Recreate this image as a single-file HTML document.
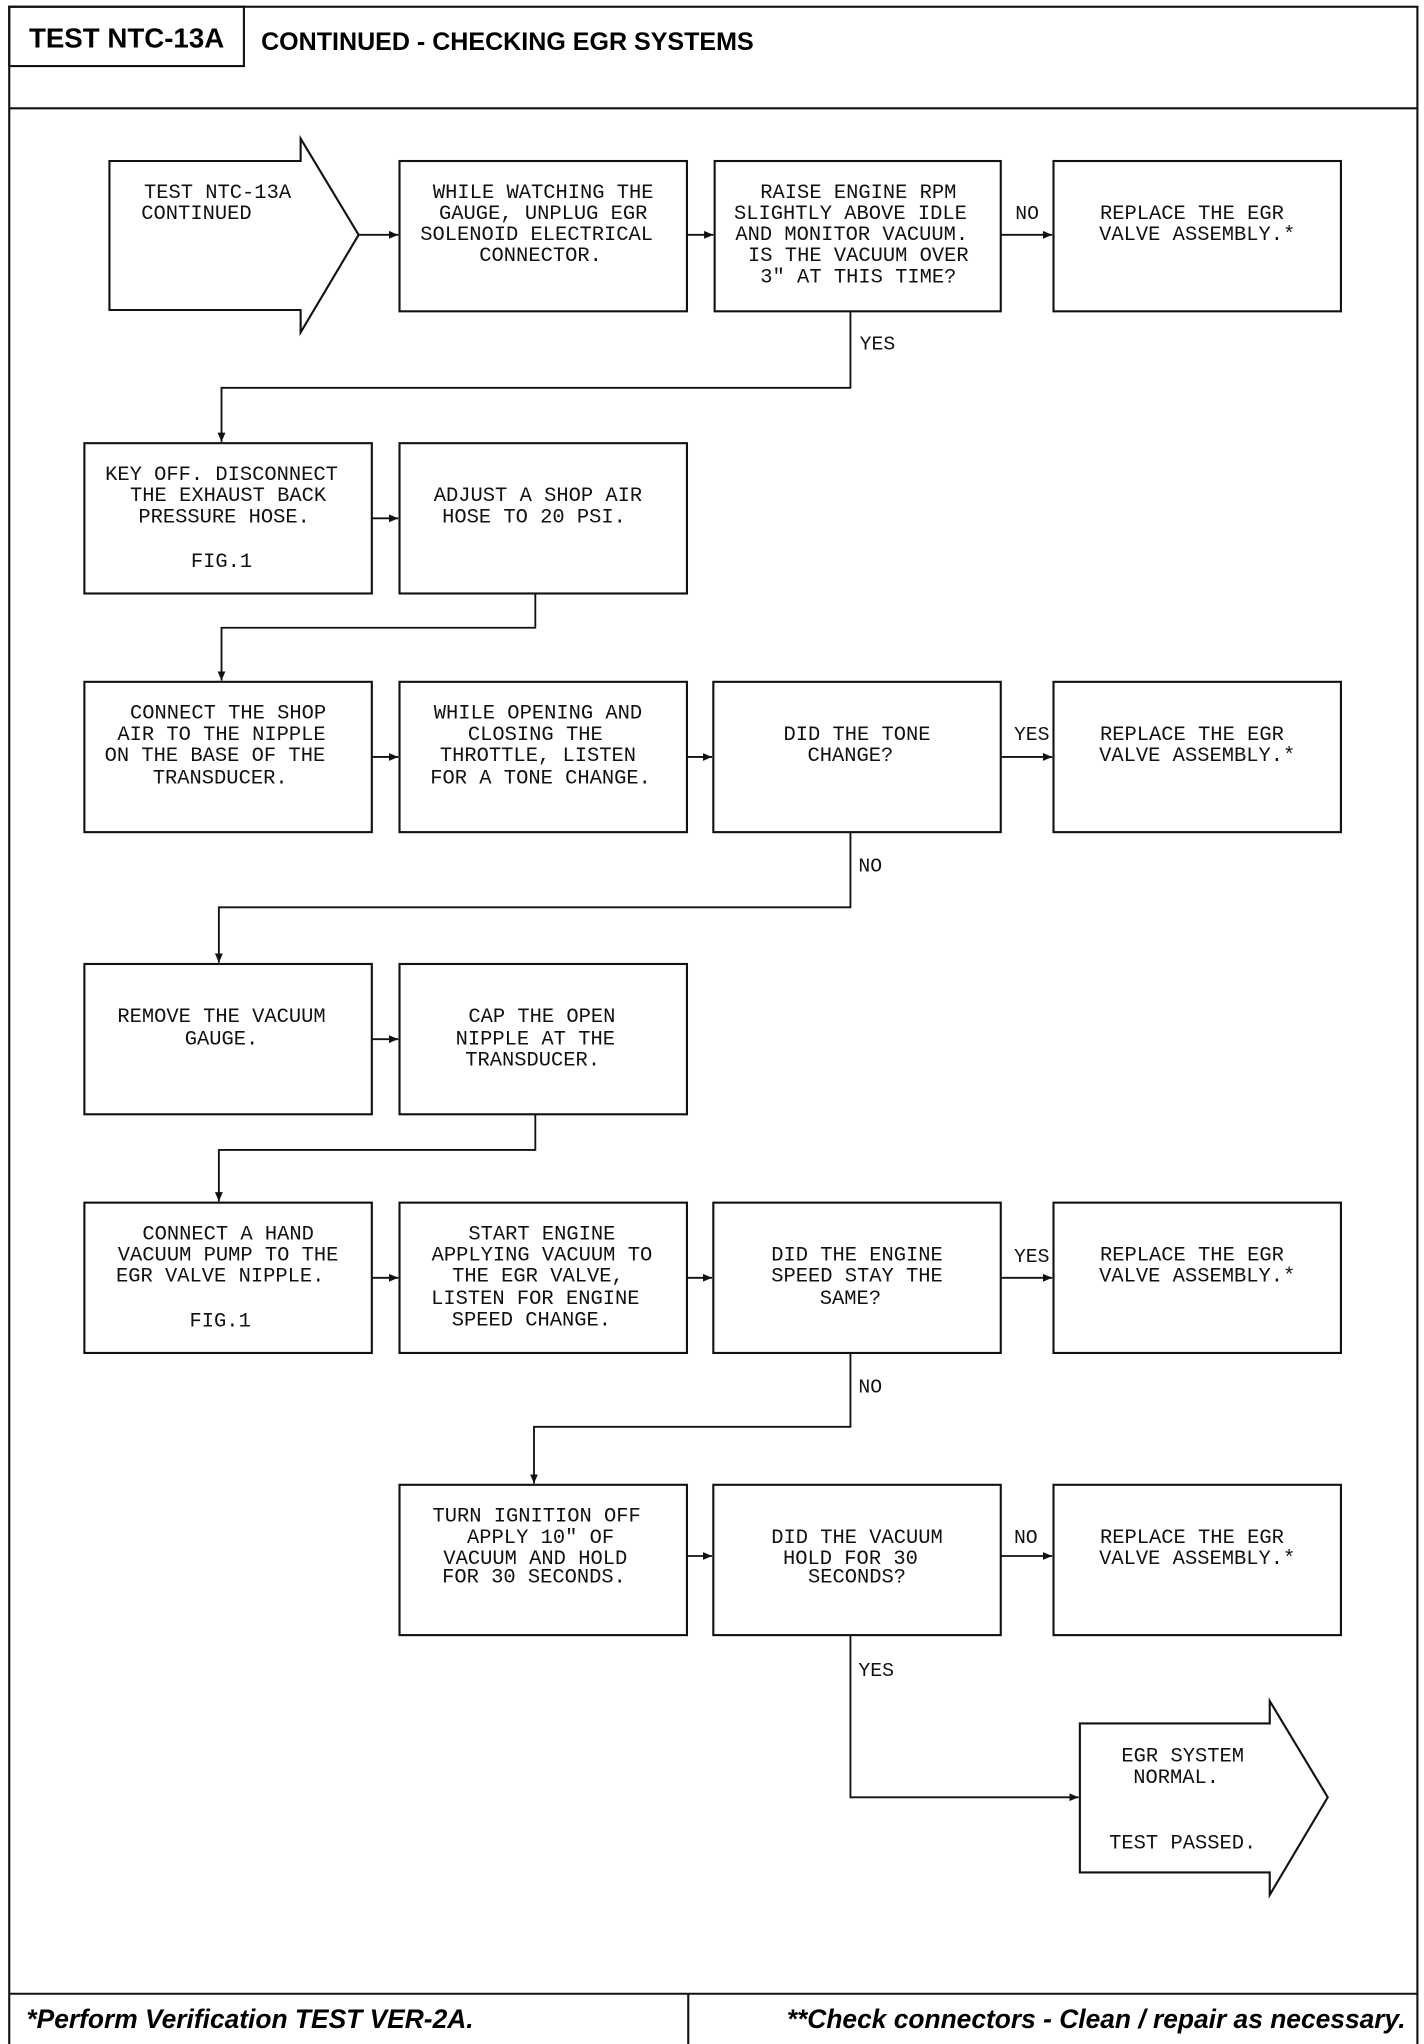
<!DOCTYPE html>
<html><head><meta charset="utf-8"><style>
html,body{margin:0;padding:0;background:#fff;}
svg{display:block;}
.t{font-family:"Liberation Mono",monospace;font-size:15.5px;fill:#111;text-anchor:middle;}
.l{font-family:"Liberation Mono",monospace;font-size:15px;fill:#111;}
.b{fill:none;stroke:#111;stroke-width:1.6;}
.c{fill:none;stroke:#111;stroke-width:1.4;}
</style></head><body>
<svg width="1424" height="2044" viewBox="0 0 1080 1550" xmlns="http://www.w3.org/2000/svg">
<defs><marker id="a" markerWidth="8" markerHeight="8" refX="7" refY="4" orient="auto" markerUnits="userSpaceOnUse"><path d="M0,1 L7,4 L0,7 Z" fill="#111"/></marker></defs>
<rect x="7" y="5" width="1068" height="1547" class="b" stroke-width="2"/>
<rect x="7" y="5" width="178" height="45" class="b" stroke-width="2"/>
<line x1="7" y1="82" x2="1075" y2="82" class="b"/>
<text x="96" y="36" font-family="Liberation Sans" font-weight="bold" font-size="21" text-anchor="middle">TEST NTC-13A</text>
<text x="198" y="38" font-family="Liberation Sans" font-weight="bold" font-size="19">CONTINUED - CHECKING EGR SYSTEMS</text>
<line x1="7" y1="1512" x2="1075" y2="1512" class="b"/>
<line x1="522" y1="1512" x2="522" y2="1552" class="b"/>
<text x="20" y="1538" font-family="Liberation Sans" font-weight="bold" font-style="italic" font-size="20">*Perform Verification TEST VER-2A.</text>
<text x="1066" y="1538" font-family="Liberation Sans" font-weight="bold" font-style="italic" font-size="20" text-anchor="end">**Check connectors - Clean / repair as necessary.</text>

<polygon class="b" points="83,122 228,122 228,105 272,178 228,252 228,235 83,235"/>
<text class="t" x="165" y="150">TEST NTC-13A</text><text class="t" x="149" y="166">CONTINUED</text>

<rect class="b" x="303" y="122" width="218" height="114"/>
<text class="t" x="412" y="150">WHILE WATCHING THE</text><text class="t" x="412" y="166">GAUGE, UNPLUG EGR</text><text class="t" x="407" y="182">SOLENOID ELECTRICAL</text><text class="t" x="410" y="198">CONNECTOR.</text>
<rect class="b" x="542" y="122" width="217" height="114"/>
<text class="t" x="651" y="150">RAISE ENGINE RPM</text><text class="t" x="645" y="166">SLIGHTLY ABOVE IDLE</text><text class="t" x="646" y="182">AND MONITOR VACUUM.</text><text class="t" x="651" y="198">IS THE VACUUM OVER</text><text class="t" x="651" y="214">3" AT THIS TIME?</text>
<rect class="b" x="799" y="122" width="218" height="114"/>
<text class="t" x="904" y="166">REPLACE THE EGR</text><text class="t" x="908" y="182">VALVE ASSEMBLY.*</text>

<rect class="b" x="64" y="336" width="218" height="114"/>
<text class="t" x="168" y="364">KEY OFF. DISCONNECT</text><text class="t" x="173" y="380">THE EXHAUST BACK</text><text class="t" x="170" y="396">PRESSURE HOSE.</text><text class="t" x="168" y="430">FIG.1</text>
<rect class="b" x="303" y="336" width="218" height="114"/>
<text class="t" x="408" y="380">ADJUST A SHOP AIR</text><text class="t" x="405" y="396">HOSE TO 20 PSI.</text>

<rect class="b" x="64" y="517" width="218" height="114"/>
<text class="t" x="173" y="545">CONNECT THE SHOP</text><text class="t" x="168" y="561">AIR TO THE NIPPLE</text><text class="t" x="163" y="577">ON THE BASE OF THE</text><text class="t" x="167" y="594">TRANSDUCER.</text>
<rect class="b" x="303" y="517" width="218" height="114"/>
<text class="t" x="408" y="545">WHILE OPENING AND</text><text class="t" x="406" y="561">CLOSING THE</text><text class="t" x="408" y="577">THROTTLE, LISTEN</text><text class="t" x="410" y="594">FOR A TONE CHANGE.</text>
<rect class="b" x="541" y="517" width="218" height="114"/>
<text class="t" x="650" y="561">DID THE TONE</text><text class="t" x="645" y="577">CHANGE?</text>
<rect class="b" x="799" y="517" width="218" height="114"/>
<text class="t" x="904" y="561">REPLACE THE EGR</text><text class="t" x="908" y="577">VALVE ASSEMBLY.*</text>

<rect class="b" x="64" y="731" width="218" height="114"/>
<text class="t" x="168" y="775">REMOVE THE VACUUM</text><text class="t" x="168" y="792">GAUGE.</text>
<rect class="b" x="303" y="731" width="218" height="114"/>
<text class="t" x="411" y="775">CAP THE OPEN</text><text class="t" x="406" y="792">NIPPLE AT THE</text><text class="t" x="404" y="808">TRANSDUCER.</text>

<rect class="b" x="64" y="912" width="218" height="114"/>
<text class="t" x="173" y="940">CONNECT A HAND</text><text class="t" x="173" y="956">VACUUM PUMP TO THE</text><text class="t" x="167" y="972">EGR VALVE NIPPLE.</text><text class="t" x="167" y="1006">FIG.1</text>
<rect class="b" x="303" y="912" width="218" height="114"/>
<text class="t" x="411" y="940">START ENGINE</text><text class="t" x="411" y="956">APPLYING VACUUM TO</text><text class="t" x="408" y="972">THE EGR VALVE,</text><text class="t" x="406" y="989">LISTEN FOR ENGINE</text><text class="t" x="403" y="1005">SPEED CHANGE.</text>
<rect class="b" x="541" y="912" width="218" height="114"/>
<text class="t" x="650" y="956">DID THE ENGINE</text><text class="t" x="650" y="972">SPEED STAY THE</text><text class="t" x="645" y="989">SAME?</text>
<rect class="b" x="799" y="912" width="218" height="114"/>
<text class="t" x="904" y="956">REPLACE THE EGR</text><text class="t" x="908" y="972">VALVE ASSEMBLY.*</text>

<rect class="b" x="303" y="1126" width="218" height="114"/>
<text class="t" x="407" y="1154">TURN IGNITION OFF</text><text class="t" x="410" y="1170">APPLY 10" OF</text><text class="t" x="406" y="1186">VACUUM AND HOLD</text><text class="t" x="405" y="1200">FOR 30 SECONDS.</text>
<rect class="b" x="541" y="1126" width="218" height="114"/>
<text class="t" x="650" y="1170">DID THE VACUUM</text><text class="t" x="645" y="1186">HOLD FOR 30</text><text class="t" x="650" y="1200">SECONDS?</text>
<rect class="b" x="799" y="1126" width="218" height="114"/>
<text class="t" x="904" y="1170">REPLACE THE EGR</text><text class="t" x="908" y="1186">VALVE ASSEMBLY.*</text>

<polygon class="b" points="819,1307 963,1307 963,1290 1007,1363 963,1437 963,1420 819,1420"/>
<text class="t" x="897" y="1336">EGR SYSTEM</text><text class="t" x="892" y="1352">NORMAL.</text><text class="t" x="897" y="1402">TEST PASSED.</text>

<g class="c" marker-end="url(#a)">
<line x1="272" y1="178" x2="302" y2="178"/>
<line x1="521" y1="178" x2="541" y2="178"/>
<line x1="759" y1="178" x2="798" y2="178"/>
<polyline points="645,236 645,294 168,294 168,335"/>
<line x1="282" y1="393" x2="302" y2="393"/>
<polyline points="406,450 406,476 168,476 168,516"/>
<line x1="282" y1="574" x2="302" y2="574"/>
<line x1="521" y1="574" x2="540" y2="574"/>
<line x1="759" y1="574" x2="798" y2="574"/>
<polyline points="645,631 645,688 166,688 166,730"/>
<line x1="282" y1="788" x2="302" y2="788"/>
<polyline points="406,845 406,872 166,872 166,911"/>
<line x1="282" y1="969" x2="302" y2="969"/>
<line x1="521" y1="969" x2="540" y2="969"/>
<line x1="759" y1="969" x2="798" y2="969"/>
<polyline points="645,1026 645,1082 405,1082 405,1125"/>
<line x1="521" y1="1180" x2="540" y2="1180"/>
<line x1="759" y1="1180" x2="798" y2="1180"/>
<polyline points="645,1240 645,1363 818,1363"/>
</g>
<text class="l" x="770" y="166">NO</text>
<text class="l" x="652" y="265">YES</text>
<text class="l" x="769" y="561">YES</text>
<text class="l" x="651" y="661">NO</text>
<text class="l" x="769" y="957">YES</text>
<text class="l" x="651" y="1056">NO</text>
<text class="l" x="769" y="1170">NO</text>
<text class="l" x="651" y="1271">YES</text>
</svg>
</body></html>
